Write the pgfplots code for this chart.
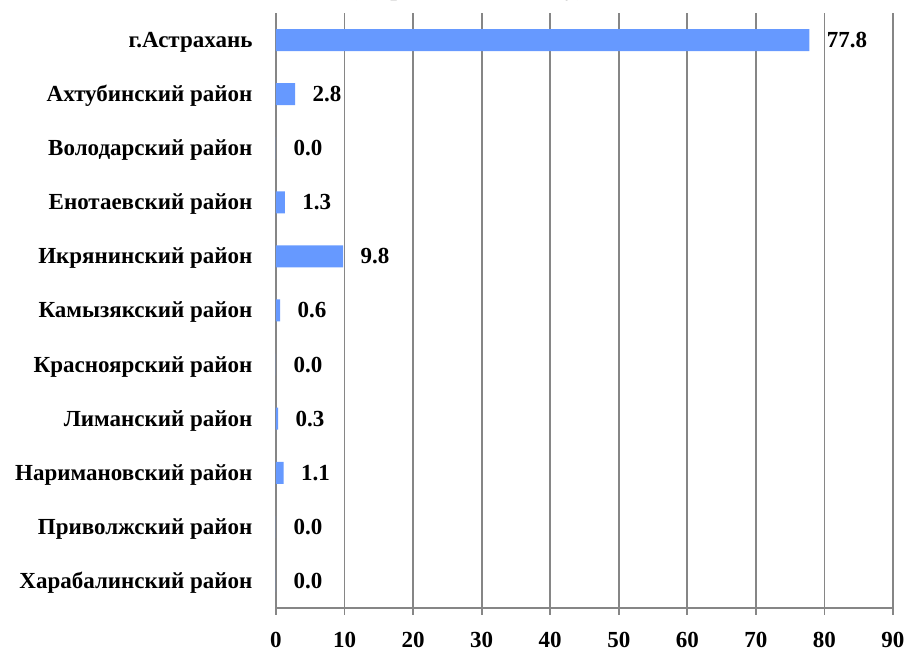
\documentclass[border=0pt]{standalone}
\usepackage{pgfplots}
\pgfplotsset{compat=1.18}
\usepackage{fontspec}
\setmainfont{Liberation Serif}
\definecolor{barblue}{RGB}{102,153,255}
\definecolor{axgray}{RGB}{134,134,134}
\newcommand{\lbl}{\bfseries\fontsize{23}{26}\selectfont}
\begin{document}
\begin{tikzpicture}
\begin{axis}[
    at={(0,0)}, anchor=south west,
    scale only axis,
    width=617pt, height=595pt,
    xbar,
    bar width=22pt,
    xmin=0, xmax=90,
    ymin=-0.5, ymax=10.5,
    xtick={0,10,...,90},
    ytick={0,...,10},
    yticklabels={Харабалинский район, Приволжский район, Наримановский район,
        Лиманский район, Красноярский район, Камызякский район,
        Икрянинский район, Енотаевский район, Володарский район,
        Ахтубинский район, г.Астрахань},
    axis x line*=bottom,
    axis y line*=left,
    axis line style={axgray, line width=1.8pt},
    xmajorgrids,
    major grid style={axgray, line width=1.8pt},
    tick align=outside,
    major tick length=7pt,
    x tick style={axgray, line width=1.8pt},
    xtick pos=bottom,
    ytick pos=left,
    y tick style={draw=none},
    extra y ticks={-0.5,0.5,...,10.5},
    extra y tick labels={},
    extra y tick style={grid=none, tick style={draw=axgray, line width=1.8pt}},
    /pgf/number format/assume math mode=true,
    ticklabel style={font=\lbl, text=black},
    xticklabel style={yshift=-14pt},
    yticklabel style={xshift=-13pt, yshift=-2pt},
    nodes near coords,
    nodes near coords style={font=\lbl, text=black, anchor=west, xshift=14pt,
        /pgf/number format/.cd, fixed, fixed zerofill, precision=1,
        assume math mode=true},
]
\addplot[fill=barblue, draw=none] coordinates {
    (77.8,10) (2.8,9) (0.0,8) (1.3,7) (9.8,6) (0.6,5)
    (0.0,4) (0.3,3) (1.1,2) (0.0,1) (0.0,0)
};
\end{axis}
\node[overlay, anchor=base, font=\bfseries\fontsize{24}{26}\selectfont]
    at (191pt,612pt) {(в процентах к итогу)};
\pgfresetboundingbox
\path[use as bounding box] (-276pt,-45pt) rectangle (632pt,608pt);
\end{tikzpicture}
\end{document}
